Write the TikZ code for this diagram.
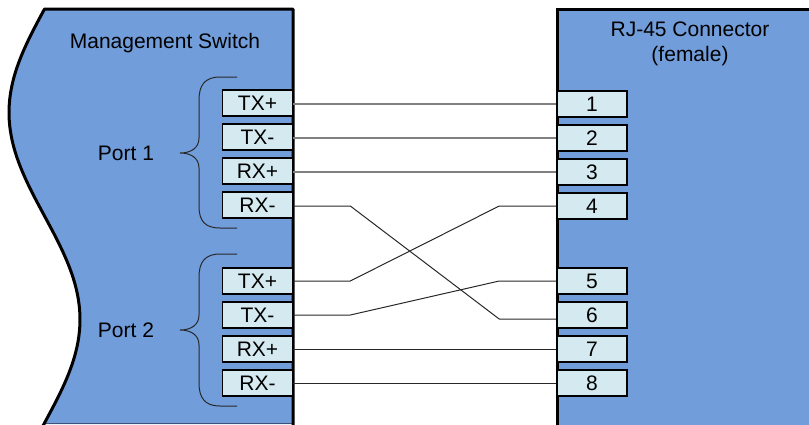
\documentclass[tikz,border=0pt]{standalone}
\usepackage{fontspec}
\setmainfont{Liberation Sans}
\usetikzlibrary{calc}
\definecolor{devblue}{RGB}{113,157,219}
\definecolor{boxfill}{RGB}{212,234,240}
\definecolor{wiregray}{RGB}{128,128,128}
\definecolor{wiredark}{RGB}{40,40,40}
\definecolor{edgeblue}{RGB}{60,80,120}
\begin{document}
\begin{tikzpicture}[x=1pt,y=-1pt,
  lbl/.style={font=\fontsize{21}{25}\selectfont, text=black, inner sep=0pt},
  pinbox/.style={draw=black, line width=1.6pt, fill=boxfill, minimum width=70pt, minimum height=26pt, inner sep=0pt, font=\fontsize{21}{25}\selectfont},
  wireA/.style={draw=wiregray, line width=1.2pt},
  wireB/.style={draw=wiredark, line width=1pt},
  bracepath/.style={draw=wiredark, line width=1pt}
]
\useasboundingbox (0,0) rectangle (809,424);
% left device (management switch)
\fill[devblue] plot[domain=9:424, samples=80] ({44.5-35.5*sin(0.8696*(\x-9))}, \x) -- (293,424) -- (293,9) -- cycle;
\draw[edgeblue, line width=1pt] (44,423) -- (293,423);
\draw[black, line width=3pt, line join=round] (293,426) -- (293,9) -- plot[domain=9:426, samples=80] ({44.5-35.5*sin(0.8696*(\x-9))}, \x);
% right device (RJ-45)
\fill[devblue] (557,9) rectangle (812,427);
\draw[black, line width=3pt] (557,427) -- (557,9) -- (812,9);
% titles
\node[lbl] (msw) at (165,43) {Management Switch};
\node[lbl, align=center] (rj) at (690,43.5) {RJ-45 Connector\\(female)};
% port boxes
\node[pinbox] (a1) at (257.5,103) {TX+};
\node[pinbox] (a2) at (257.5,137) {TX-};
\node[pinbox] (a3) at (257.5,171) {RX+};
\node[pinbox] (a4) at (257.5,205) {RX-};
\node[pinbox] (b1) at (257.5,281) {TX+};
\node[pinbox] (b2) at (257.5,315) {TX-};
\node[pinbox] (b3) at (257.5,349) {RX+};
\node[pinbox] (b4) at (257.5,383) {RX-};
% connector pins
\node[pinbox] (r1) at (592,104) {1};
\node[pinbox] (r2) at (592,138) {2};
\node[pinbox] (r3) at (592,172) {3};
\node[pinbox] (r4) at (592,206) {4};
\node[pinbox] (r5) at (592,281) {5};
\node[pinbox] (r6) at (592,315) {6};
\node[pinbox] (r7) at (592,349) {7};
\node[pinbox] (r8) at (592,383) {8};
% port labels and braces
\node[lbl] (port1) at (126,153) {Port 1};
\node[lbl] (port2) at (126,330) {Port 2};
\draw[bracepath] (237,77) -- (220,77) .. controls (205,77) and (199,85) .. (199,100) -- (199,138) .. controls (199,148) and (191,153) .. (180,153) .. controls (191,153) and (199,158) .. (199,168) -- (199,206) .. controls (199,221) and (205,228) .. (220,228) -- (237,228);
\draw[bracepath] (237,254) -- (220,254) .. controls (205,254) and (199,262) .. (199,277) -- (199,315) .. controls (199,325) and (191,330) .. (180,330) .. controls (191,330) and (199,335) .. (199,345) -- (199,383) .. controls (199,398) and (205,406) .. (220,406) -- (237,406);
% wires
\draw[wireA] (a1.east |- r1.west) -- (r1.west);
\draw[wireA] (a2.east |- r2.west) -- (r2.west);
\draw[wireA] (a3.east |- r3.west) -- (r3.west);
\draw[wireB] (a4.east |- r4.west) -- ++(57,0) -- ($(r6.west)+(-57,4)$) -- ($(r6.west)+(0,4)$);
\draw[wireB] (b1.east) -- ++(57,0) -- ($(r4.west)+(-57,0)$) -- (r4.west);
\draw[wireB] (b2.east) -- ++(57,0) -- ($(r5.west)+(-57,0)$) -- (r5.west);
\draw[wireB] (b3.east) -- (r7.west);
\draw[wireB] (b4.east) -- (r8.west);
\end{tikzpicture}
\end{document}
